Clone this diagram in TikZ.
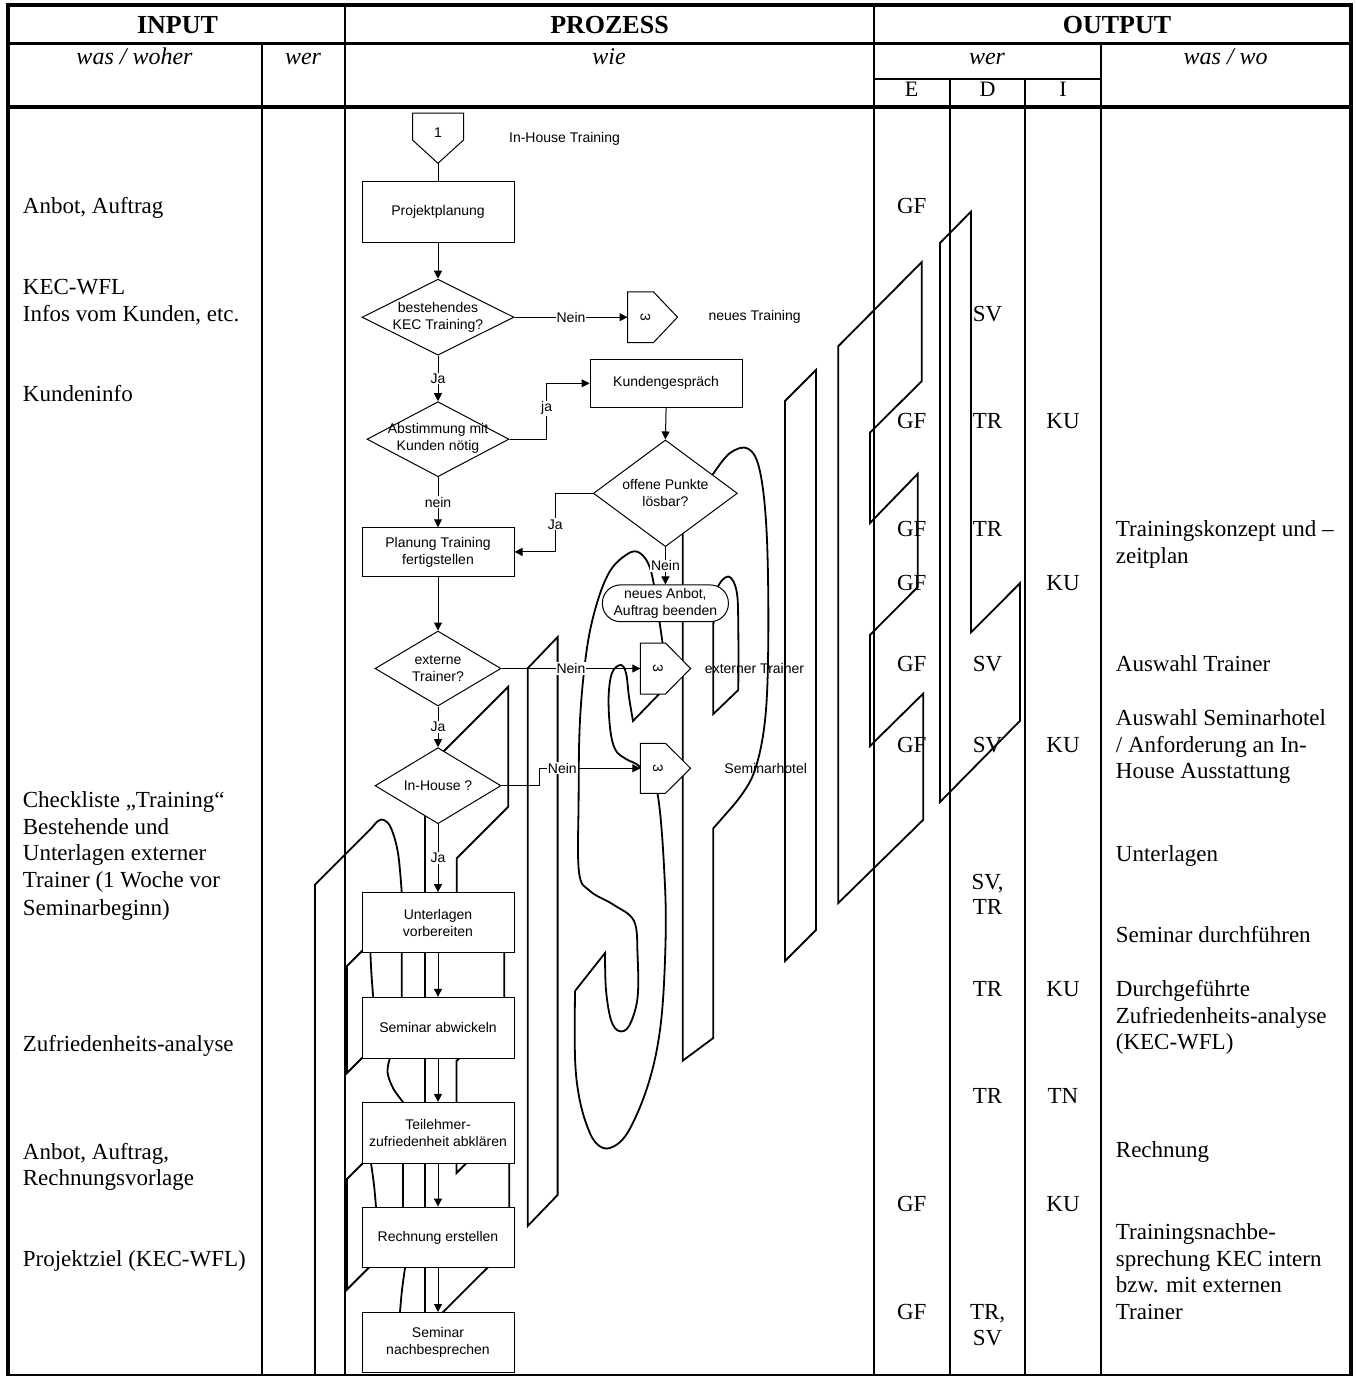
\documentclass[tikz,border=0pt]{standalone}
\usepackage{fontspec}
\setmainfont{Liberation Serif}
\newfontfamily\arialf{Liberation Sans}
\usetikzlibrary{arrows.meta,shapes.geometric}
\begin{document}
\begin{tikzpicture}[x=1pt,y=-1pt,
  wmk/.style={line width=1.8pt},
  tline/.style={line width=2pt},
  borderln/.style={line width=4pt},
  procbox/.style={draw,fill=white,line width=1pt,inner sep=0pt,minimum width=152pt,font=\arialf\fontsize{14}{17}\selectfont,align=center},
  decis/.style={diamond,draw,fill=white,line width=1pt,inner sep=0pt},
  termbox/.style={draw,fill=white,line width=1pt,rounded corners=18pt,inner sep=0pt,font=\arialf\fontsize{14}{17}\selectfont,align=center},
  ftxt/.style={font=\arialf\fontsize{14}{17}\selectfont,align=center,inner sep=0pt},
  lbltxt/.style={font=\arialf\fontsize{14}{17}\selectfont,fill=white,inner sep=1pt},
  arrw/.style={-{Triangle[length=8pt,width=8pt]},line width=1pt},
  plainln/.style={line width=1pt},
  conrect/.style={inner sep=0pt,outer sep=0pt},
  tx/.style={font=\fontsize{23}{27}\selectfont,anchor=base west,inner sep=0pt},
  cx/.style={font=\fontsize{23}{27}\selectfont,anchor=base,inner sep=0pt},
  hdtxt/.style={font=\bfseries\fontsize{26}{30}\selectfont,inner sep=0pt},
  shtxt/.style={font=\itshape\fontsize{24}{28}\selectfont,anchor=base,inner sep=0pt},
  edtxt/.style={font=\fontsize{22}{26}\selectfont,anchor=base,inner sep=0pt}
]
\useasboundingbox (0,0) rectangle (1356,1376);
\fill[white] (0,0) rectangle (1356,1376);

% ---------------- watermark outlines ----------------
\begin{scope}[wmk]
% B
\draw (315,1376) -- (315,884.6) -- (371.7,828) -- plot[smooth,tension=0.6] coordinates {(371.7,828) (378,821) (384,820) (391,828) (398,853) (401.7,892)} -- (401.7,997) -- plot[smooth,tension=0.6] coordinates {(390,1058) (387.5,1072) (393,1088) (403,1102)} -- (403,1207) -- plot[smooth,tension=0.6] coordinates {(405,1268) (402,1290) (400,1312)} -- (400,1372);
\draw (347,1073) -- (347,966) -- (373,940) -- plot[smooth,tension=0.6] coordinates {(370.4,953) (371.5,975) (373.2,997)} -- (374,1046) -- cycle;
\draw (347,1289.5) -- (347,1179) -- (374,1152) -- plot[smooth,tension=0.6] coordinates {(371,1163) (374,1185) (376,1207)} -- (378.5,1258) -- cycle;
% E
\draw (425,1330) -- (425,770) -- (508.3,686.7) -- (508.3,806.7) -- (456.7,858.3) -- (456.7,944) -- (504.3,896) -- (504.3,1013) -- (456.5,1061) -- (456.5,1173) -- (509.3,1120) -- (509.3,1246) -- cycle;
% I
\draw (527.7,1226) -- (527.7,668.3) -- (557.6,637) -- (557.6,1195) -- cycle;
% S
\draw (575,991) -- (605,953) -- plot[smooth,tension=0.6] coordinates {(605,953) (606,990) (611,1020) (619,1031) (629,1026) (637.5,998) (637.5,954) (634,921) (614,905) (590,891) (579,872) (578.6,800) (580,720) (586.7,650) (596.7,604) (610,571) (626.7,554.5) (638,552) (648,563) (654,585) (660,625) (663,646) (665,688)} -- (633,721) -- plot[smooth,tension=0.6] coordinates {(633,721) (629,697) (626,673) (620.6,665) (612,673) (608.6,697) (610.3,730) (615.5,750) (626,759) (640,767) (657,791) (665,886) (665,960) (660,1030) (648,1085) (628,1132) (610,1148) (596,1143) (586,1123) (578.6,1094) (575,1057) (575,991)};
% P
\draw (682.7,1060.7) -- (682.7,505) -- (713.6,473.3) -- plot[smooth,tension=0.6] coordinates {(713.6,473.3) (730,453) (748.3,448.7) (760,471.5) (766.7,533.7) (768.3,637.5) (765,720.5) (753.3,774.4) (733.3,805.5)} -- (713.3,828.3) -- (713.3,1038) -- cycle;
\draw (713.3,714) -- (713.3,625) -- plot[smooth,tension=0.6] coordinates {(713.3,625) (716.7,590) (728.3,576.5) (736.7,591.8) (738.3,630) (738.3,690)} -- cycle;
% I
\draw (785,961) -- (785,401) -- (816,370) -- (816,930) -- cycle;
% E
\draw (838.3,903) -- (838.3,346.2) -- (921.7,262.1) -- (921.7,381.2) -- (870,432.5) -- (870,523) -- (917.7,473.8) -- (917.7,587) -- (870,635) -- (870,746) -- (923.3,693.5) -- (923.3,819.7) -- cycle;
% L
\draw (940,802) -- (940,243) -- (971,211.6) -- (971,632.4) -- (1020,583.2) -- (1020,720.8) -- cycle;
\end{scope}

% ---------------- table ----------------
\draw[borderln] (8,1376) -- (8,5.3) -- (1351,5.3) -- (1351,1376);
\draw[line width=2.5pt] (8,1374.8) -- (1351,1374.8);
\draw[line width=3.5pt] (8,43.3) -- (1351,43.3);
\draw[borderln] (8,106.5) -- (1351,106.5);
\draw[tline] (873.5,79) -- (1100.5,79);
\draw[tline] (261.5,43.3) -- (261.5,1375);
\draw[tline] (344.5,5.3) -- (344.5,1375);
\draw[tline] (873.5,5.3) -- (873.5,1375);
\draw[tline] (950,79) -- (950,1375);
\draw[tline] (1025.3,79) -- (1025.3,1375);
\draw[tline] (1100.5,43.3) -- (1100.5,1375);

% header texts
\node[hdtxt] (hin) at (177.5,25.5) {INPUT};
\node[hdtxt] (hpr) at (609.5,25.5) {PROZESS};
\node[hdtxt] (hout) at (1117,25.5) {OUTPUT};
\node[shtxt] (swas) at (134.5,64.5) {was / woher};
\node[shtxt] (swer) at (303,64.5) {wer};
\node[shtxt] (swie) at (609,64.5) {wie};
\node[shtxt] (swer2) at (987,64.5) {wer};
\node[shtxt] (swas2) at (1225.7,64.5) {was / wo};
\node[edtxt] (he) at (911.7,96) {E};
\node[edtxt] (hd) at (987.6,96) {D};
\node[edtxt] (hi) at (1063,96) {I};

% input texts
\node[tx] (in1) at (22.7,213.4) {Anbot, Auftrag};
\node[tx] (in2) at (22.7,294.5) {KEC-WFL};
\node[tx] (in3) at (22.7,321.3) {Infos vom Kunden, etc.};
\node[tx] (in4) at (22.7,401.7) {Kundeninfo};
\node[tx] (in5) at (22.7,807.5) {Checkliste „Training“};
\node[tx] (in6) at (22.7,834) {Bestehende und};
\node[tx] (in7) at (22.7,860.7) {Unterlagen externer};
\node[tx] (in8) at (22.7,887.5) {Trainer (1 Woche vor};
\node[tx] (in9) at (22.7,915) {Seminarbeginn)};
\node[tx] (in10) at (22.7,1051) {Zufriedenheits-analyse};
\node[tx] (in11) at (22.7,1159) {Anbot, Auftrag,};
\node[tx] (in12) at (22.7,1185.7) {Rechnungsvorlage};
\node[tx] (in13) at (22.7,1266) {Projektziel (KEC-WFL)};

% output: who
\node[cx] (e1) at (911.7,213) {GF};
\node[cx] (d1w) at (987.6,321.3) {SV};
\node[cx] (e2) at (911.7,428.4) {GF};
\node[cx] (d2w) at (987.6,428.4) {TR};
\node[cx] (i2) at (1063,428.4) {KU};
\node[cx] (e3) at (911.7,536.5) {GF};
\node[cx] (d3w) at (987.6,536.5) {TR};
\node[cx] (e4) at (911.7,590) {GF};
\node[cx] (i4) at (1063,590) {KU};
\node[cx] (e5) at (911.7,671.7) {GF};
\node[cx] (d5w) at (987.6,671.7) {SV};
\node[cx] (e6) at (911.7,752) {GF};
\node[cx] (d6w) at (987.6,752) {SV};
\node[cx] (i6) at (1063,752) {KU};
\node[cx] (d7w) at (987.6,889) {SV,};
\node[cx] (d7x) at (987.6,914.4) {TR};
\node[cx] (d8w) at (987.6,996) {TR};
\node[cx] (i8) at (1063,996) {KU};
\node[cx] (d9w) at (987.6,1103.3) {TR};
\node[cx] (i9) at (1063,1103.3) {TN};
\node[cx] (e10) at (911.7,1211) {GF};
\node[cx] (i10) at (1063,1211) {KU};
\node[cx] (e11) at (911.7,1319.3) {GF};
\node[cx] (d11w) at (987.6,1319.3) {TR,};
\node[cx] (d11x) at (987.6,1345) {SV};

% output: what
\node[tx] (o1) at (1115.7,536.5) {Trainingskonzept und –};
\node[tx] (o1b) at (1115.7,563.3) {zeitplan};
\node[tx] (o2) at (1115.7,671.7) {Auswahl Trainer};
\node[tx] (o3) at (1115.7,725.3) {Auswahl Seminarhotel};
\node[tx] (o3b) at (1115.7,752) {/ Anforderung an In-};
\node[tx] (o3c) at (1115.7,778.9) {House Ausstattung};
\node[tx] (o4) at (1115.7,861) {Unterlagen};
\node[tx] (o5) at (1115.7,942) {Seminar durchführen};
\node[tx] (o6) at (1115.7,996) {Durchgeführte};
\node[tx] (o6b) at (1115.7,1023.5) {Zufriedenheits-analyse};
\node[tx] (o6c) at (1115.7,1049.4) {(KEC-WFL)};
\node[tx] (o7) at (1115.7,1157.7) {Rechnung};
\node[tx] (o8) at (1115.7,1239.5) {Trainingsnachbe-};
\node[tx] (o8b) at (1115.7,1266) {sprechung KEC intern};
\node[tx] (o8c) at (1115.7,1292.7) {bzw. mit externen};
\node[tx] (o8d) at (1115.7,1319.3) {Trainer};

% ---------------- flowchart ----------------
\node[conrect,minimum width=51pt,minimum height=27pt] (c1) at (438,126.5) {};
\coordinate (c1tip) at (438,163.3);
\draw[plainln,fill=white] (c1.north west) -- (c1.north east) -- (c1.south east) -- (c1tip) -- (c1.south west) -- cycle;
\node[ftxt] (c1n) at (438,132.3) {1};
\node[ftxt] (lihs) at (564.5,138.5) {In-House Training};

\node[procbox,minimum height=61pt] (proj) at (438,211.5) {Projektplanung};
\node[decis,minimum width=152pt,minimum height=76pt] (d1) at (438,317.2) {};
\node[ftxt] (d1t) at (438,317) {bestehendes\\KEC Training?};

\node[conrect,minimum width=26pt,minimum height=50.6pt] (c3a) at (640.5,317.2) {};
\coordinate (c3atip) at (677.5,317.2);
\draw[plainln,fill=white] (c3a.north west) -- (c3a.north east) -- (c3atip) -- (c3a.south east) -- (c3a.south west) -- cycle;
\node[ftxt,rotate=-90] (c3an) at (645.5,317.2) {3};
\node[ftxt] (lnt) at (754.6,316.7) {neues Training};

\node[procbox,minimum height=48pt] (kunde) at (666.1,383.3) {Kundengespräch};
\node[decis,minimum width=142pt,minimum height=75pt] (d2) at (438,439.2) {};
\node[ftxt] (d2t) at (438,438.5) {Abstimmung mit\\Kunden nötig};
\node[decis,minimum width=144pt,minimum height=106.7pt] (d3) at (665.4,493.3) {};
\node[ftxt] (d3t) at (665.4,492.5) {offene Punkte\\lösbar?};
\node[procbox,minimum height=48.3pt] (plan) at (438,551.9) {Planung Training\\fertigstellen};
\node[termbox,minimum width=126pt,minimum height=36.7pt] (term) at (665.4,603.3) {neues Anbot,\\Auftrag beenden};

\node[decis,minimum width=126pt,minimum height=75pt] (d4) at (438,668.5) {};
\node[ftxt] (d4t) at (438,668.3) {externe\\Trainer?};
\node[conrect,minimum width=25.1pt,minimum height=51pt] (c3b) at (652.9,668.5) {};
\coordinate (c3btip) at (690.6,668.5);
\draw[plainln,fill=white] (c3b.north west) -- (c3b.north east) -- (c3btip) -- (c3b.south east) -- (c3b.south west) -- cycle;
\node[ftxt,rotate=-90] (c3bn) at (658,668.5) {3};
\node[ftxt] (lext) at (754.5,668.3) {externer Trainer};

\node[decis,minimum width=126pt,minimum height=76pt] (d5) at (438,785.7) {};
\node[ftxt] (d5t) at (438,785.5) {In-House ?};
\node[conrect,minimum width=25.1pt,minimum height=50pt] (c3c) at (652.9,768.3) {};
\coordinate (c3ctip) at (690.6,768.3);
\draw[plainln,fill=white] (c3c.north west) -- (c3c.north east) -- (c3ctip) -- (c3c.south east) -- (c3c.south west) -- cycle;
\node[ftxt,rotate=-90] (c3cn) at (658,768.3) {3};
\node[ftxt] (lsem) at (765.7,768.3) {Seminarhotel};

\node[procbox,minimum height=60.2pt] (b1) at (438,922.7) {Unterlagen\\vorbereiten};
\node[procbox,minimum height=61pt] (b2) at (438,1027.8) {Seminar abwickeln};
\node[procbox,minimum height=60.6pt] (b3) at (438,1132.7) {Teilehmer-\\zufriedenheit abklären};
\node[procbox,minimum height=60.7pt] (b4) at (438,1237.4) {Rechnung erstellen};
\node[procbox,minimum height=60pt] (b5) at (438,1342.5) {Seminar\\nachbesprechen};

% connectors
\coordinate (j1) at (546.6,408.3);
\coordinate (j2) at (555.2,524.3);
\coordinate (j3) at (539,768.3);
\draw[plainln] (c1tip) -- (proj.north);
\draw[arrw] (proj.south) -- (d1.north);
\draw[arrw] (d1.east) -- (c3a.west) node[lbltxt,midway] (n1) {Nein};
\draw[arrw] (d1.south) -- (d2.north) node[lbltxt,midway] (n2) {Ja};
\draw[arrw] (d2.east) -| (j1) node[lbltxt] (n3) {ja} |- (kunde.west);
\draw[arrw] (kunde.south) -- (d3.north);
\draw[arrw] (d3.west) -| (j2) node[lbltxt] (n4) {Ja} |- (plan.east);
\draw[arrw] (d3.south) -- (term.north) node[lbltxt,midway] (n5) {Nein};
\draw[arrw] (d2.south) -- (plan.north) node[lbltxt,midway] (n6) {nein};
\draw[arrw] (plan.south) -- (d4.north);
\draw[arrw] (d4.east) -- (c3b.west) node[lbltxt,midway] (n7) {Nein};
\draw[arrw] (d4.south) -- (d5.north) node[lbltxt,midway] (n8) {Ja};
\draw[arrw] (d5.east) -| (j3) -- (c3c.west) node[lbltxt,pos=0.23] (n9) {Nein};
\draw[arrw] (d5.south) -- (b1.north) node[lbltxt,midway] (n10) {Ja};
\draw[arrw] (b1.south) -- (b2.north);
\draw[arrw] (b2.south) -- (b3.north);
\draw[arrw] (b3.south) -- (b4.north);
\draw[arrw] (b4.south) -- (b5.north);
\end{tikzpicture}
\end{document}
